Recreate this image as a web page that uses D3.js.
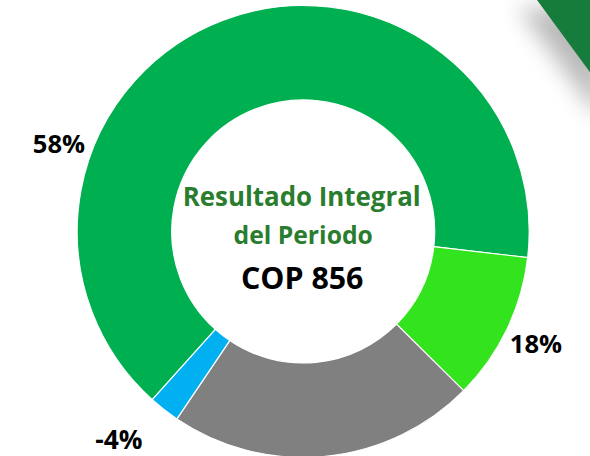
<!DOCTYPE html>
<html><head><meta charset="utf-8">
<script src="https://cdn.jsdelivr.net/npm/d3@7"></script>
<style>html,body{margin:0;padding:0;background:#fff;overflow:hidden}svg{display:block}</style>
</head><body>
<svg id="c" width="590" height="456"></svg>
<script>
// Data
const categories = ["Componente A", "Componente B", "Componente C", "Componente D"];
const sliceValues = [65.2, 10.6, 22.0, 2.2];
const labelTexts = ["58%", "18%", "", "-4%"];
const colors = ["#00B050", "#33E31E", "#808080", "#00B0F0"];
const centerTitle = ["Resultado Integral", "del Periodo"];
const centerValue = "COP 856";

// Layout
const W = 590, H = 456;
const cx = 303.2, cy = 231.5, R = 226, r = 131.5;
const startDeg = 221.9;
const labelPos = [ {a: 289.8, d: 259.6, w: 52.3}, {a: null, d: 258.3, w: 52.3}, null, {a: 221.6, d: 277.7, w: 47.3} ];

const svg = d3.select("#c");
const defs = svg.append("defs");
const f = defs.append("filter").attr("id","sh").attr("x","-50%").attr("y","-50%").attr("width","200%").attr("height","200%");
f.append("feGaussianBlur").attr("stdDeviation", 11);

// decorative corner band with shadow
const band = [[537,0],[620,0],[620,113]];
svg.append("polygon").attr("points", band.map(p=>[p[0]-18,p[1]+8].join(",")).join(" "))
  .attr("fill","#8a8a8a").attr("opacity",0.6).attr("filter","url(#sh)");
svg.append("polygon").attr("points", band.map(p=>p.join(",")).join(" ")).attr("fill","#167C3B");

const g = svg.append("g").attr("transform", `translate(${cx},${cy})`);
const toRad = d => d * Math.PI / 180;
const pie = d3.pie().sort(null).value(d => d)
  .startAngle(toRad(startDeg)).endAngle(toRad(startDeg) + 2*Math.PI);
const arcs = pie(sliceValues);
const arc = d3.arc().innerRadius(r).outerRadius(R);

g.selectAll("path.s").data(arcs).enter().append("path")
  .attr("class","s").attr("d", arc)
  .attr("fill", (d,i) => colors[i])
  .attr("stroke", "#fff").attr("stroke-width", 1.2);

const font = "'Open Sans', Lato, sans-serif";
function fit(sel, target) {
  const base = 20;
  sel.attr("font-size", base);
  const w = sel.node().getComputedTextLength();
  sel.attr("font-size", base * target / w);
  return sel;
}
arcs.forEach((d,i) => {
  if (!labelTexts[i] || !labelPos[i]) return;
  const p = labelPos[i];
  const a = toRad(p.a === null ? (d.startAngle + d.endAngle) * 90 / Math.PI : p.a);
  const x = Math.sin(a) * p.d, y = -Math.cos(a) * p.d;
  const t = g.append("text").attr("x", x).attr("y", y).attr("dy","0.36em")
    .attr("text-anchor","middle").attr("font-family", font).attr("font-weight", 700)
    .attr("fill","#000").text(labelTexts[i]);
  fit(t, p.w);
});

fit(g.append("text").attr("x", -1.5).attr("y", -25.8).attr("text-anchor","middle")
  .attr("font-family", font).attr("font-weight",700)
  .attr("fill","#2A7D2E").text(centerTitle[0]), 238);
fit(g.append("text").attr("x", 0).attr("y", 12.5).attr("text-anchor","middle")
  .attr("font-family", font).attr("font-weight",700)
  .attr("fill","#2A7D2E").text(centerTitle[1]), 139.4);
fit(g.append("text").attr("x", -1).attr("y", 57.5).attr("text-anchor","middle")
  .attr("font-family", font).attr("font-weight",700)
  .attr("fill","#000").text(centerValue), 122.6);
</script>
</body></html>
